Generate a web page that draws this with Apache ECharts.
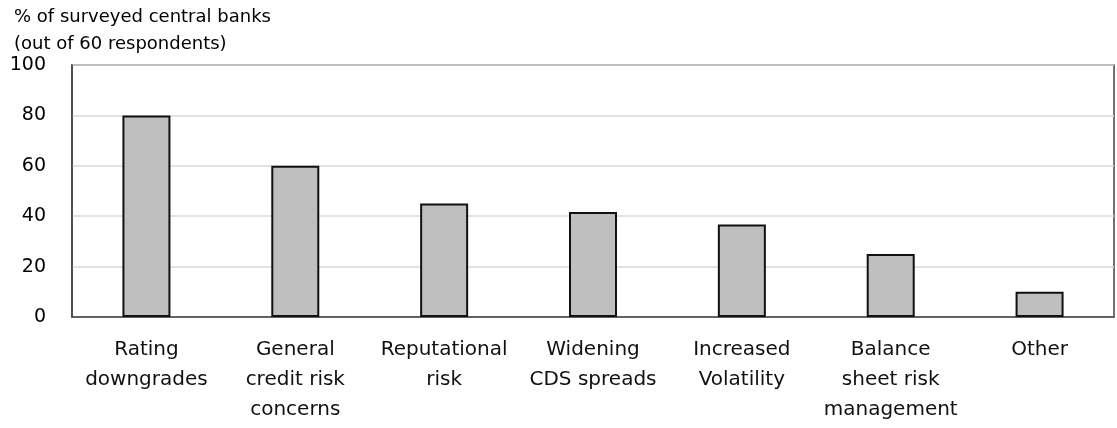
<!DOCTYPE html>
<html>
<head>
<meta charset="utf-8">
<script src="https://cdn.jsdelivr.net/npm/echarts@6/dist/echarts.min.js"></script>
<style>
  html, body { margin: 0; padding: 0; background: #fff; }
</style>
</head>
<body>
<!-- CHART: reasons cited by surveyed central banks -->
<div id="reasons" style="width:1117px; height:428px"></div>
<script>
var categories = [
  'Rating\ndowngrades',
  'General\ncredit risk\nconcerns',
  'Reputational\nrisk',
  'Widening\nCDS spreads',
  'Increased\nVolatility',
  'Balance\nsheet risk\nmanagement',
  'Other'
];
var shares = [80, 60, 45, 41.7, 36.7, 25, 10];
var yTicks = [0, 20, 40, 60, 80, 100];

var chartDom = document.getElementById('reasons');
var myChart = echarts.init(chartDom);
var option;

option = {
  animation: false,
  textStyle: { fontFamily: 'DejaVu Sans' },
  title: {
    text: '% of surveyed central banks\n(out of 60 respondents)',
    left: 9,
    top: -1,
    textStyle: {
      fontFamily: 'DejaVu Sans',
      fontSize: 18,
      fontWeight: 'normal',
      color: '#000',
      lineHeight: 27
    }
  },
  grid: {
    left: 72,
    right: 3,
    top: 65,
    bottom: 111,
    show: true,
    borderColor: '#444',
    borderWidth: 1.5
  },
  xAxis: {
    type: 'category',
    data: categories,
    axisTick: { show: false },
    axisLine: { lineStyle: { color: '#444', width: 1.5 } },
    axisLabel: {
      interval: 0,
      margin: 18,
      fontSize: 20,
      lineHeight: 30,
      color: '#111'
    }
  },
  yAxis: {
    type: 'value',
    min: yTicks[0],
    max: yTicks[yTicks.length - 1],
    interval: 20,
    axisLine: { show: true, lineStyle: { color: '#444', width: 1.5 } },
    axisTick: { show: false },
    splitLine: { lineStyle: { color: '#d9d9d9', width: 1.5 } },
    axisLabel: {
      margin: 26,
      fontSize: 19,
      color: '#000'
    }
  },
  series: [
    {
      name: 'Share',
      type: 'bar',
      barWidth: 48,
      itemStyle: {
        color: '#bfbfbf',
        borderColor: '#111',
        borderWidth: 2
      },
      data: shares
    }
  ]
};

option && myChart.setOption(option);
</script>
</body>
</html>
